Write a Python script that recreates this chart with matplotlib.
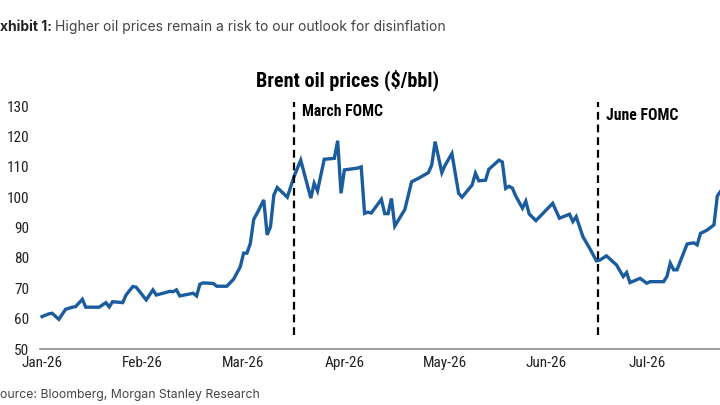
import matplotlib.pyplot as plt
from matplotlib import font_manager

# Brent price path (x = day index, month ticks every 30 days)
days = [0, 2, 3, 5, 7, 9, 10, 12, 13, 17, 19, 20, 21, 24, 25, 27, 28, 31, 33, 34,
        36, 38, 39, 40, 41, 45, 46, 47, 48, 51, 52, 55, 57, 59, 60, 61, 62, 63, 64, 66,
        67, 68, 69, 70, 73, 75, 77, 80, 81, 82, 84, 87, 88, 89, 90, 94, 95, 96, 97, 98,
        101, 102, 103, 104, 105, 108, 110, 112, 115, 116, 117, 119, 120, 122, 124, 125, 128, 129, 130, 132,
        133, 136, 137, 138, 139, 140, 141, 143, 144, 145, 147, 152, 154, 157, 158, 159, 161, 163, 165, 166,
        168, 171, 173, 174, 175, 178, 180, 181, 185, 186, 187, 188, 189, 192, 194, 195, 196, 198, 200, 201,
        202]
brent = [60.7, 61.6, 61.8, 59.8, 63.1, 63.8, 64.0, 66.4, 63.8, 63.8, 65.3, 63.9, 65.6, 65.3, 67.8, 70.6, 70.4, 66.2, 69.5, 67.8,
         68.4, 69.0, 68.9, 69.5, 67.5, 68.4, 67.5, 71.4, 71.8, 71.6, 70.7, 70.7, 73.0, 77.1, 81.6, 81.6, 84.8, 92.7, 94.7, 99.1,
         87.6, 90.3, 100.7, 103.2, 100.0, 106.8, 112.2, 99.7, 104.6, 102.1, 112.5, 112.8, 118.6, 101.3, 109.0, 109.6, 110.0, 94.7, 95.1, 94.8,
         99.3, 94.6, 94.6, 99.6, 90.5, 96.0, 105.1, 106.2, 108.1, 110.6, 118.3, 108.1, 110.6, 114.4, 101.3, 100.0, 104.0, 107.9, 105.4, 105.6,
         109.2, 112.2, 111.6, 102.9, 103.6, 103.0, 100.4, 96.4, 98.7, 94.5, 92.3, 98.0, 93.1, 94.4, 92.0, 93.6, 87.0, 83.2, 79.1, 79.3,
         80.7, 77.7, 73.9, 75.2, 71.9, 73.3, 71.7, 72.2, 72.2, 73.9, 78.3, 76.1, 76.1, 84.6, 85.0, 84.3, 88.1, 89.2, 90.9, 100.4,
         102.0]

month_ticks = [0, 30, 60, 90, 120, 150, 180]
month_labels = ["Jan-26", "Feb-26", "Mar-26", "Apr-26", "May-26", "Jun-26", "Jul-26"]
fomc_days = [75, 165.5]
fomc_labels = ["March FOMC", "June FOMC"]
fomc_label_y = [128.3, 127.0]

# condensed face if one is around, else Roboto
names = {f.name for f in font_manager.fontManager.ttflist}
narrow = "Roboto"
for cand in ["Roboto Condensed", "Liberation Sans Narrow", "Open Sans Condensed"]:
    if cand in names:
        narrow = cand
        break
plt.rcParams["font.family"] = [narrow, "DejaVu Sans"]

fig = plt.figure(figsize=(7.2, 4.05), dpi=100)
ax = fig.add_axes([0.0556, 0.138, 0.9444, 0.615])

ax.plot(days, brent, color="#1a5c9e", lw=2.4, solid_joinstyle="miter")

for d, lab, ly in zip(fomc_days, fomc_labels, fomc_label_y):
    ax.plot([d, d], [54.7, 131.3], color="black", lw=1.6, ls=(0, (3.5, 2.2)), clip_on=False)
    ax.annotate(lab, xy=(d, ly), xytext=(6, 0), textcoords="offset points",
                fontsize=11.3, fontweight="bold", va="center", ha="left")

ax.set_xlim(-0.6, 201.8)
ax.set_ylim(50, 132)
ax.set_yticks(range(50, 131, 10))
ax.set_xticks(month_ticks)
ax.set_xticklabels(month_labels)
ax.tick_params(length=0, labelsize=11, colors="#222222")
ax.tick_params(axis="y", pad=8)
ax.tick_params(axis="x", pad=5)
for s in ["top", "right", "left"]:
    ax.spines[s].set_visible(False)
ax.spines["bottom"].set_color("#8c8c8c")
ax.spines["bottom"].set_linewidth(1.2)

fig.text(0.483, 0.803, "Brent oil prices ($/bbl)", fontsize=14.5, fontweight="bold",
         ha="center", va="center")

# header and source are cropped at the left edge in the original screenshot
head = ["Inter", "Roboto", "DejaVu Sans"]
t = fig.text(0.0, 0.933, "xhibit 1:", fontsize=10, fontweight="bold", color="#222222",
             ha="left", va="center", family=head)
fig.canvas.draw()
bb = t.get_window_extent()
fig.text(bb.x1 / fig.bbox.width + 0.005, 0.933,
         "Higher oil prices remain a risk to our outlook for disinflation",
         fontsize=10, color="#444444", ha="left", va="center", family=head)
fig.text(0.0, 0.025, "ource: Bloomberg, Morgan Stanley Research", fontsize=8.8,
         color="#444444", ha="left", va="center", family=head)

fig.savefig("out.png", dpi=100)
